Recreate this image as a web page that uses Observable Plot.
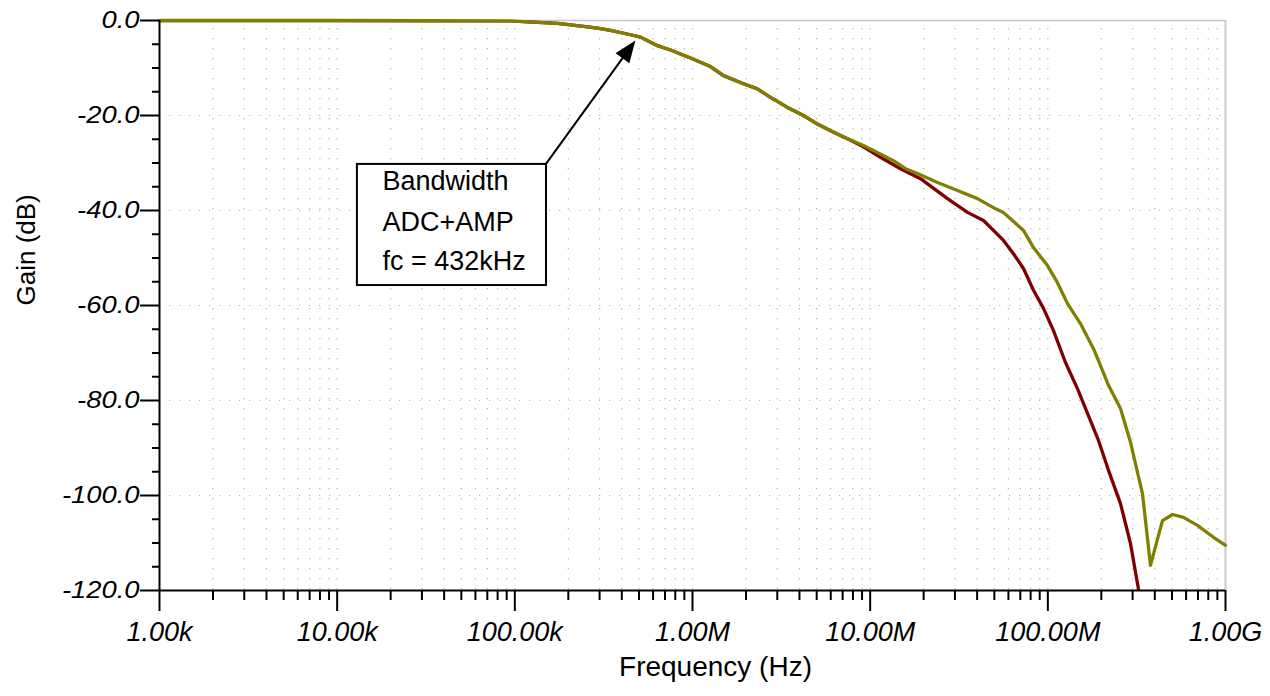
<!DOCTYPE html>
<html><head><meta charset="utf-8">
<script src="https://cdn.jsdelivr.net/npm/d3@7"></script>
<script src="https://cdn.jsdelivr.net/npm/@observablehq/plot@0.6"></script>
<style>
body{margin:0;background:#fff;}
#chart svg text{font-family:"Liberation Sans",Arial,sans-serif;}
#chart g[aria-label="x-axis tick label"], #chart g[aria-label="y-axis tick label"]{font-style:italic;}
</style></head><body><div id="chart"></div>
<script>
// shared part of both curves (Hz, dB)
const freqCommon = [1e3, 1e4, 94.5e3, 125.9e3, 173.9e3, 243.5e3, 292.0e3, 345.5e3, 447.7e3, 509.8e3, 635.2e3, 751.7e3, 974.3e3, 1.262e6, 1.494e6, 1.936e6, 2.322e6, 2.748e6, 3.424e6, 4.214e6, 5.051e6, 5.981e6, 7.455e6];
const gainCommon = [0, 0, -0.1, -0.35, -0.6, -1.25, -1.6, -2.1, -3.0, -3.5, -5.3, -6.2, -7.9, -9.7, -11.6, -13.3, -14.4, -16.2, -18.3, -20.0, -21.8, -23.2, -24.9];
// olive curve beyond 7.5 MHz
const freqOlive = [9.171e6, 13.53e6, 15.81e6, 18.47e6, 23.93e6, 31.01e6, 40.18e6, 49.44e6, 56.27e6, 72.93e6, 83.03e6, 99.54e6, 113.3e6, 129.0e6, 152.6e6, 180.7e6, 192.8e6, 219.5e6, 256.4e6, 291.9e6, 341.0e6, 378.2e6, 441.8e6, 502.9e6, 579.9e6, 695.5e6, 855.6e6, 1e9];
const gainOlive = [-26.3, -29.5, -31.2, -32.2, -34.1, -35.8, -37.5, -39.4, -40.4, -44.2, -47.8, -51.6, -55.2, -59.6, -63.8, -69.1, -71.6, -76.8, -81.7, -88.8, -99.6, -114.7, -105.3, -104.0, -104.6, -106.3, -108.8, -110.5];
// dark red curve beyond 7.5 MHz
const freqRed = [9.171e6, 11.43e6, 14.82e6, 19.20e6, 27.24e6, 35.30e6, 43.43e6, 49.44e6, 56.27e6, 64.07e6, 72.93e6, 83.03e6, 94.52e6, 107.6e6, 125.7e6, 146.8e6, 167.2e6, 192.8e6, 219.5e6, 256.4e6, 291.9e6, 330e6];
const gainRed = [-26.6, -28.8, -31.2, -33.3, -37.5, -40.4, -42.1, -44.2, -46.3, -49.1, -52.2, -56.8, -60.6, -65.3, -72.0, -77.5, -82.7, -88.4, -94.7, -101.7, -110.1, -121.5];

// axis ticks and labels
const xMajor = [1e3, 1e4, 1e5, 1e6, 1e7, 1e8, 1e9];
const xLabels = ["1.00k", "10.00k", "100.00k", "1.00M", "10.00M", "100.00M", "1.00G"];
const yMajor = [0, -20, -40, -60, -80, -100, -120];
const yMinor = [-5, -10, -15, -25, -30, -35, -45, -50, -55, -65, -70, -75, -85, -90, -95, -105, -110, -115];
const yGrid = [-20, -40, -60, -80, -100];
const xMinor = xMajor.slice(0, -1).flatMap(d => [2, 3, 4, 5, 6, 7, 8, 9].map(k => k * d));
const xGrid = xMinor.concat(xMajor.slice(1, -1));

// annotation
const noteLines = ["Bandwidth", "ADC+AMP", "fc = 432kHz"];
const noteLineY = [-33.8, -42.4, -50.7];
const noteX = 18.0e3;
const boxX = [13.0e3, 150.7e3];
const boxY = [-30.3, -55.8];
const arrowTail = [150.7e3, -30.3];
const arrowHead = [480e3, -4.3];

const olive = freqCommon.concat(freqOlive).map((f, i) => ({f, g: gainCommon.concat(gainOlive)[i]}));
const red = freqCommon.concat(freqRed).map((f, i) => ({f, g: gainCommon.concat(gainRed)[i]}));

function arrowMark(index, scales) {
  const x1 = scales.x(arrowTail[0]), y1 = scales.y(arrowTail[1]);
  const x2 = scales.x(arrowHead[0]), y2 = scales.y(arrowHead[1]);
  const a = Math.atan2(y2 - y1, x2 - x1), L = 22, W = 8.5;
  const bx = x2 - L * Math.cos(a), by = y2 - L * Math.sin(a);
  const px = -Math.sin(a) * W, py = Math.cos(a) * W;
  const g = d3.create("svg:g");
  g.append("line").attr("x1", x1).attr("y1", y1).attr("x2", bx + 2 * Math.cos(a)).attr("y2", by + 2 * Math.sin(a))
    .attr("stroke", "black").attr("stroke-width", 2);
  g.append("path").attr("d", `M${x2},${y2}L${bx + px},${by + py}L${bx - px},${by - py}Z`).attr("fill", "black");
  return g.node();
}

const chart = Plot.plot({
  width: 1270, height: 696,
  marginLeft: 159, marginRight: 45, marginTop: 20, marginBottom: 106,
  x: {type: "log", domain: [1e3, 1e9]},
  y: {domain: [-120, 0]},
  style: {fontFamily: "Liberation Sans, Arial, sans-serif", background: "white"},
  marks: [
    Plot.ruleX(xGrid, {stroke: "#b4b4b4", strokeWidth: 1.2, strokeDasharray: "1.2,8.8", strokeDashoffset: -8}),
    Plot.ruleY(yGrid, {stroke: "#b4b4b4", strokeWidth: 1.2, strokeDasharray: "1.2,8.8"}),
    Plot.ruleY([0], {stroke: "#c8c8c8", strokeWidth: 1.5}),
    Plot.ruleX([1e9], {stroke: "#c8c8c8", strokeWidth: 2}),
    Plot.rect([0], {x1: () => boxX[0], x2: () => boxX[1], y1: () => boxY[0], y2: () => boxY[1], fill: "white", stroke: "black", strokeWidth: 2}),
    Plot.text(noteLines, {x: () => noteX, y: (d, i) => noteLineY[i], text: d => d, textAnchor: "start", fontSize: 27, fill: "black"}),
    arrowMark,
    Plot.line(red, {x: "f", y: "g", stroke: "#800000", strokeWidth: 3.3, clip: true}),
    Plot.line(olive, {x: "f", y: "g", stroke: "#808000", strokeWidth: 3.3}),
    Plot.axisY(yMinor, {tickSize: 7, tickFormat: () => "", strokeWidth: 2, label: null}),
    Plot.axisY(yMajor, {tickSize: 19, tickPadding: 1, tickFormat: d => d.toFixed(1), fontSize: 23, strokeWidth: 2, label: null}),
    Plot.axisX(xMinor, {tickSize: 10, tickFormat: () => "", strokeWidth: 2, label: null}),
    Plot.axisX(xMajor, {tickSize: 21, tickPadding: 10, tickFormat: d => xLabels[xMajor.indexOf(d)], fontSize: 27, strokeWidth: 2, label: null}),
    Plot.ruleX([1e3], {stroke: "black", strokeWidth: 2}),
    Plot.ruleY([-120], {stroke: "black", strokeWidth: 2}),
    Plot.text(["Gain (dB)"], {frameAnchor: "left", dx: -133, rotate: -90, fontSize: 26, fill: "black"}),
    Plot.text(["Frequency (Hz)"], {frameAnchor: "bottom", dx: 23, dy: 85, fontSize: 28, fill: "black"})
  ]
});
document.getElementById("chart").appendChild(chart);
// y tick labels in the reference are drawn horizontally wider than tall
d3.select(chart).selectAll('g[aria-label="y-axis tick label"] text').each(function () {
  const w = this.getComputedTextLength();
  d3.select(this).attr("textLength", w * 1.19).attr("lengthAdjust", "spacingAndGlyphs");
});
</script></body></html>
